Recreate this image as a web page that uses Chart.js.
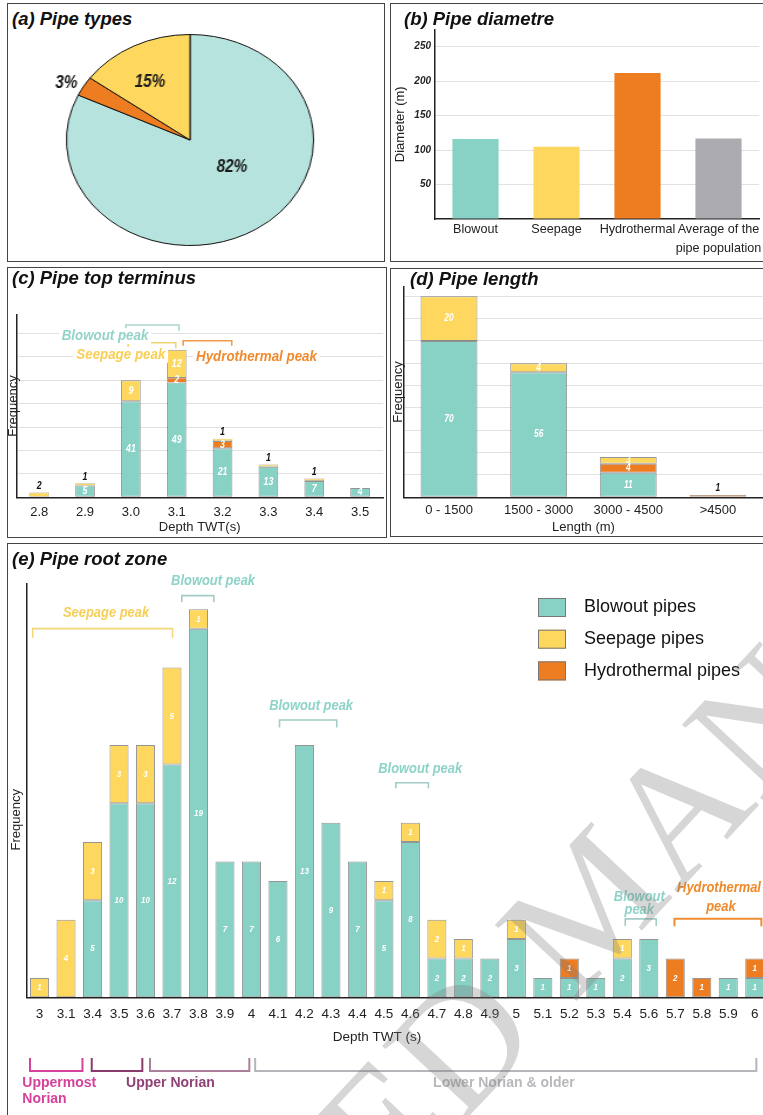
<!DOCTYPE html>
<html>
<head>
<meta charset="utf-8">
<script src="https://cdn.jsdelivr.net/npm/chart.js@4.4.1/dist/chart.umd.min.js"></script>
<style>
  html, body { margin: 0; padding: 0; background: #fff; }
  body { width: 763px; height: 1115px; overflow: hidden; position: relative; font-family: 'Liberation Sans', Arial, sans-serif; }
  .panel { position: absolute; box-sizing: border-box; border: 1px solid #444; background: #fff; }
  .panel canvas { position: absolute; left: 0; top: 0; }
  .ttl { position: absolute; font: italic bold 18.5px 'Liberation Sans', Arial, sans-serif; line-height: 20px; color: #111; white-space: nowrap; }
  #wm { position: absolute; left: -382px; top: 896px; font: 170px 'Liberation Serif', 'Times New Roman', serif; line-height: 170px;
        color: rgba(120,120,120,0.3); white-space: nowrap; transform-origin: 899.6px 86px; transform: rotate(-47deg); pointer-events: none; }
</style>
</head>
<body>
<div class="panel" style="left:7px;top:3px;width:378px;height:259px"></div>
<canvas id="pie" width="260" height="212" style="position:absolute;left:60px;top:34px;transform:scaleX(1.171)"></canvas>
<div class="panel" style="left:390px;top:3px;width:400px;height:259px"><canvas id="cb" width="380" height="257"></canvas></div>
<div class="panel" style="left:7px;top:267px;width:380px;height:271px"><canvas id="cc" width="378" height="269"></canvas></div>
<div class="panel" style="left:390px;top:268px;width:400px;height:269px"><canvas id="cd" width="380" height="267"></canvas></div>
<div class="panel" style="left:7px;top:543px;width:780px;height:600px"><canvas id="ce" width="770" height="570"></canvas></div>

<div class="ttl" style="left:12px;top:8.6px">(a) Pipe types</div>
<div class="ttl" style="left:404px;top:8.6px">(b) Pipe diametre</div>
<div class="ttl" style="left:12px;top:268.3px">(c) Pipe top terminus</div>
<div class="ttl" style="left:410px;top:269.3px">(d) Pipe length</div>
<div class="ttl" style="left:12px;top:548.6px">(e) Pipe root zone</div>
<div id="wm">ACCEPTED MANUSCRIPT</div>

<script>
// (a) share of pipe types, clockwise from 12 o'clock
const TYPE_LABELS = ['Blowout', 'Hydrothermal', 'Seepage'];
const TYPE_SHARE = [82, 3, 15];

// (b) mean diameter (m)
const DIAM_LABELS = ['Blowout', 'Seepage', 'Hydrothermal', ['Average of the', 'pipe population']];
const DIAM_VALUES = [116, 105, 212, 117];

// (c) pipe top terminus, depth TWT (s)
const TOP_DEPTH = ['2.8', '2.9', '3.0', '3.1', '3.2', '3.3', '3.4', '3.5'];
const TOP_BLOWOUT = [0, 5, 41, 49, 21, 13, 7, 4];
const TOP_HYDRO = [0, 0, 0, 2, 3, 0, 0, 0];
const TOP_SEEPAGE = [2, 1, 9, 12, 1, 1, 1, 0];

// (d) pipe length (m)
const LEN_BINS = ['0 - 1500', '1500 - 3000', '3000 - 4500', '>4500'];
const LEN_BLOWOUT = [70, 56, 11, 0];
const LEN_HYDRO = [0, 0, 4, 1];
const LEN_SEEPAGE = [20, 4, 3, 0];

// (e) pipe root zone, depth TWT (s)
const ROOT_DEPTH = ['3', '3.1', '3.4', '3.5', '3.6', '3.7', '3.8', '3.9', '4', '4.1', '4.2', '4.3', '4.4', '4.5',
  '4.6', '4.7', '4.8', '4.9', '5', '5.1', '5.2', '5.3', '5.4', '5.6', '5.7', '5.8', '5.9', '6'];
const ROOT_BLOWOUT = [0, 0, 5, 10, 10, 12, 19, 7, 7, 6, 13, 9, 7, 5, 8, 2, 2, 2, 3, 1, 1, 1, 2, 3, 0, 0, 1, 1];
const ROOT_HYDRO = [0, 0, 0, 0, 0, 0, 0, 0, 0, 0, 0, 0, 0, 0, 0, 0, 0, 0, 0, 0, 1, 0, 0, 0, 2, 1, 0, 1];
const ROOT_SEEPAGE = [1, 4, 3, 3, 3, 5, 1, 0, 0, 0, 0, 0, 0, 1, 1, 2, 1, 0, 1, 0, 0, 0, 1, 0, 0, 0, 0, 0];

const FONT = "'Liberation Sans', Arial, sans-serif";
const TEAL = '#88d1c5', YELLOW = '#fed85e', ORANGE = '#ee7d22', GREY = '#acacb0', PIE_TEAL = '#b6e3dd';
const BAR_EDGE = 'rgba(60,60,60,0.55)';

Chart.defaults.font.family = FONT;
Chart.defaults.color = '#222';
Chart.defaults.animation = false;
Chart.defaults.responsive = false;
Chart.defaults.plugins.legend.display = false;
Chart.defaults.plugins.tooltip.enabled = false;

function txt(ctx, s, x, y, o) {
  ctx.save();
  ctx.font = (o.style || '') + ' ' + (o.weight || '') + ' ' + o.size + 'px ' + FONT;
  ctx.translate(x, y);
  if (o.rot) ctx.rotate(o.rot);
  ctx.scale(o.sx || 1, 1);
  ctx.textAlign = o.align || 'center';
  ctx.textBaseline = 'middle';
  if (o.bg) {
    const w = ctx.measureText(s).width;
    ctx.fillStyle = o.bg;
    ctx.fillRect(-w / 2 - 3, -o.size * 0.55, w + 6, o.size * 1.1);
  }
  ctx.fillStyle = o.color;
  ctx.fillText(s, 0, 0);
  ctx.restore();
}

// numbers inside the stacked segments
function stackLabels(size, sx) {
  return {
    id: 'stackLabels',
    afterDatasetsDraw(chart) {
      const ctx = chart.ctx;
      chart.data.labels.forEach((lab, i) => {
        let top = -1;
        chart.data.datasets.forEach((ds, d) => { if (ds.data[i] > 0) top = d; });
        chart.data.datasets.forEach((ds, d) => {
          const v = ds.data[i];
          if (!v) return;
          const bar = chart.getDatasetMeta(d).data[i];
          const h = bar.base - bar.y;
          const f = { size: size, sx: sx, weight: 'bold', style: 'italic' };
          if (d === top && h < 6) txt(ctx, String(v), bar.x, bar.y - 6.5, Object.assign(f, { color: '#111' }));
          else txt(ctx, String(v), bar.x, (bar.y + bar.base) / 2, Object.assign(f, { color: '#fff' }));
        });
      });
    }
  };
}

// peak labels and brackets, placed in category / value units
function notes(items) {
  return {
    id: 'notes',
    afterDraw(chart) {
      const ctx = chart.ctx, x = chart.scales.x, y = chart.scales.y;
      items.forEach(it => {
        if (it.from !== undefined) {
          const x0 = x.getPixelForValue(it.from), x1 = x.getPixelForValue(it.to), yy = y.getPixelForValue(it.at);
          ctx.save();
          ctx.strokeStyle = it.color;
          ctx.lineWidth = it.lw || 1.6;
          ctx.beginPath();
          ctx.moveTo(x0, yy + it.leg); ctx.lineTo(x0, yy); ctx.lineTo(x1, yy); ctx.lineTo(x1, yy + it.leg);
          ctx.stroke();
          ctx.restore();
        } else {
          txt(ctx, it.text, x.getPixelForValue(it.x), y.getPixelForValue(it.y), it);
        }
      });
    }
  };
}

function stackSets(b, h, s, lab, thin) {
  const common = {
    borderColor: BAR_EDGE, borderSkipped: false, categoryPercentage: 1,
    borderWidth: thin ? c => (c.raw <= 2 ? 0.6 : 1) : 1
  };
  return [
    Object.assign({ label: lab ? 'Blowout pipes' : 'Blowout', data: b, backgroundColor: TEAL }, common),
    Object.assign({ label: lab ? 'Hydrothermal pipes' : 'Hydrothermal', data: h, backgroundColor: ORANGE }, common),
    Object.assign({ label: lab ? 'Seepage pipes' : 'Seepage', data: s, backgroundColor: YELLOW }, common)
  ];
}

const axisLine = { color: '#222', width: 1.5 };
const softGrid = c => c.tick.value === 0 ? 'rgba(0,0,0,0)' : '#e1e1e1';

// (a) pie
const PIE_LABEL_POS = [[0.34, 0.26], [-1.0, -0.54], [-0.325, -0.546]];
new Chart(document.getElementById('pie'), {
  type: 'pie',
  data: { labels: TYPE_LABELS, datasets: [{ data: TYPE_SHARE, backgroundColor: [PIE_TEAL, ORANGE, YELLOW], borderColor: '#111', borderWidth: 1 }] },
  options: { layout: { padding: 0 } },
  plugins: [{
    id: 'pieLabels',
    afterDatasetsDraw(chart) {
      chart.getDatasetMeta(0).data.forEach((a, i) => {
        const p = PIE_LABEL_POS[i];
        txt(chart.ctx, TYPE_SHARE[i] + '%', a.x + p[0] * a.outerRadius, a.y + p[1] * a.outerRadius,
          { size: 18, sx: 0.85 / 1.171, weight: 'bold', style: 'italic', color: '#1a1a1a' });
      });
    }
  }]
});

// (b) diameter
new Chart(document.getElementById('cb'), {
  type: 'bar',
  data: { labels: DIAM_LABELS, datasets: [{ data: DIAM_VALUES, backgroundColor: [TEAL, YELLOW, ORANGE, GREY], barPercentage: 0.57, categoryPercentage: 1 }] },
  options: {
    layout: { padding: { top: 25.5, right: 12, left: 0, bottom: 0 } },
    scales: {
      x: {
        grid: { display: false, drawTicks: false }, border: axisLine,
        ticks: { color: '#222', font: { size: 12.6, lineHeight: 1.5 }, padding: 1, autoSkip: false, maxRotation: 0, minRotation: 0 },
        afterFit(s) { s.height = 42; }
      },
      y: {
        min: 0, max: 275,
        grid: { color: softGrid, drawTicks: false }, border: axisLine,
        ticks: { stepSize: 50, includeBounds: false, color: '#222', font: { size: 10, weight: 'bold', style: 'italic' }, padding: 4,
          callback: v => v === 0 ? '' : v },
        title: { display: true, text: 'Diameter (m)', color: '#222', font: { size: 13 }, padding: { top: 2 } },
        afterFit(s) { s.width = 44; }
      }
    }
  }
});

// (c) top terminus
new Chart(document.getElementById('cc'), {
  type: 'bar',
  data: { labels: TOP_DEPTH, datasets: stackSets(TOP_BLOWOUT, TOP_HYDRO, TOP_SEEPAGE, false, true).map(d => Object.assign(d, { barPercentage: 0.43 })) },
  options: {
    layout: { padding: { top: 46.7, right: 3, left: 0, bottom: 0 } },
    scales: {
      x: {
        stacked: true, grid: { display: false, drawTicks: false }, border: axisLine,
        ticks: { color: '#222', font: { size: 13 }, padding: 7, autoSkip: false, maxRotation: 0 },
        title: { display: true, text: 'Depth TWT(s)', color: '#222', font: { size: 13 }, padding: { top: 0, bottom: 2 } },
        afterFit(s) { s.height = 39.7; }
      },
      y: {
        stacked: true, min: 0, max: 78,
        grid: { color: softGrid, drawTicks: false }, border: axisLine,
        ticks: { display: false, stepSize: 10, includeBounds: false },
        title: { display: true, text: 'Frequency', color: '#222', font: { size: 13 }, padding: { top: -2.5 } },
        afterFit(s) { s.width = 8.3; }
      }
    }
  },
  plugins: [stackLabels(10.5, 0.84), notes([
    { from: 1.89, to: 3.05, at: 73.6, leg: 6, color: '#a9d6d0' },
    { from: 1.94, to: 2.98, at: 66.0, leg: 5.5, color: '#f2d46e' },
    { from: 3.14, to: 4.2, at: 66.9, leg: 5, color: '#f29a4b' },
    { text: 'Blowout peak', x: 1.435, y: 68.9, size: 14.5, sx: 0.92, weight: 'bold', style: 'italic', color: '#93d3ca', bg: '#fff' },
    { text: 'Seepage peak', x: 1.78, y: 60.9, size: 14.5, sx: 0.92, weight: 'bold', style: 'italic', color: '#f8cf55', bg: '#fff' },
    { text: 'Hydrothermal peak', x: 4.74, y: 60.1, size: 14.5, sx: 0.92, weight: 'bold', style: 'italic', color: '#f08a2e', bg: '#fff' }
  ])]
});

// (d) length
new Chart(document.getElementById('cd'), {
  type: 'bar',
  data: { labels: LEN_BINS, datasets: stackSets(LEN_BLOWOUT, LEN_HYDRO, LEN_SEEPAGE, false, true).map(d => Object.assign(d, { barPercentage: 0.635 })) },
  options: {
    layout: { padding: { top: 17.7, right: 8.3, left: 0, bottom: 0 } },
    scales: {
      x: {
        stacked: true, grid: { display: false, drawTicks: false }, border: axisLine,
        ticks: { color: '#222', font: { size: 13 }, padding: 5.6, autoSkip: false, maxRotation: 0 },
        title: { display: true, text: 'Length (m)', color: '#222', font: { size: 13 }, padding: { top: 0, bottom: 0.9 } },
        afterFit(s) { s.height = 38.7; }
      },
      y: {
        stacked: true, min: 0, max: 94.3,
        grid: { color: softGrid, drawTicks: false }, border: axisLine,
        ticks: { display: false, stepSize: 10, includeBounds: false },
        title: { display: true, text: 'Frequency', color: '#222', font: { size: 13 }, padding: { top: 0 } },
        afterFit(s) { s.width = 13.2; }
      }
    }
  },
  plugins: [stackLabels(10, 0.84)]
});

// (e) root zone
const LEGEND_ORDER = [0, 2, 1];
const peak = { size: 15, sx: 0.86, weight: 'bold', style: 'italic' };
const age = { size: 14, weight: 'bold' };
new Chart(document.getElementById('ce'), {
  type: 'bar',
  data: { labels: ROOT_DEPTH, datasets: stackSets(ROOT_BLOWOUT, ROOT_HYDRO, ROOT_SEEPAGE, true).map(d => Object.assign(d, { barPercentage: 0.72 })) },
  options: {
    layout: { padding: { top: 40, right: 10, left: 0, bottom: 0 } },
    scales: {
      x: {
        stacked: true, grid: { display: false, drawTicks: false }, border: axisLine,
        ticks: { color: '#222', font: { size: 13.5 }, padding: 9, autoSkip: false, maxRotation: 0 },
        afterFit(s) { s.height = 116.7; }
      },
      y: {
        stacked: true, min: 0, max: 21.3,
        grid: { display: false, drawTicks: false }, border: axisLine,
        ticks: { display: false },
        afterFit(s) { s.width = 18.3; }
      }
    }
  },
  plugins: [stackLabels(9.5, 0.84), notes([
    { from: -0.26, to: 5.02, at: 19.0, leg: 9, color: '#f2d679' },
    { text: 'Seepage peak', x: 2.51, y: 19.82, color: '#f6cf57', ...peak },
    { from: 5.37, to: 6.58, at: 20.7, leg: 6.5, color: '#a3ccc6' },
    { text: 'Blowout peak', x: 6.55, y: 21.47, color: '#8dd3c8', ...peak },
    { from: 9.06, to: 11.22, at: 14.29, leg: 7.5, color: '#a3ccc6' },
    { text: 'Blowout peak', x: 10.25, y: 15.03, color: '#8dd3c8', ...peak },
    { from: 13.45, to: 14.68, at: 11.06, leg: 5.5, color: '#a3ccc6' },
    { text: 'Blowout peak', x: 14.37, y: 11.77, color: '#8dd3c8', ...peak },
    { from: 22.11, to: 23.28, at: 4.04, leg: 7, color: '#a3ccc6' },
    { text: 'Blowout', x: 22.64, y: 5.2, color: '#8dd3c8', ...peak },
    { text: 'peak', x: 22.64, y: 4.5, color: '#8dd3c8', ...peak },
    { from: 23.97, to: 27.25, at: 4.05, leg: 7.5, color: '#f08c33', lw: 2 },
    { text: 'Hydrothermal', x: 25.65, y: 5.66, color: '#ef8a2c', ...peak },
    { text: 'peak', x: 25.72, y: 4.65, color: '#ef8a2c', ...peak },
    { text: 'Depth TWT (s)', x: 12.74, y: -2.05, size: 13.5, color: '#222' },
    { from: -0.36, to: 1.62, at: -3.8, leg: -13, color: '#d6429a', lw: 2 },
    { from: 1.97, to: 3.88, at: -3.8, leg: -13, color: '#8b3a6e', lw: 2 },
    { from: 4.17, to: 7.92, at: -3.8, leg: -13, color: '#a98099', lw: 2 },
    { from: 8.14, to: 27.06, at: -3.8, leg: -13, color: '#b5b5ba', lw: 2 },
    { text: 'Uppermost', x: -0.65, y: -4.4, align: 'left', color: '#d6429a', ...age },
    { text: 'Norian', x: -0.65, y: -5.26, align: 'left', color: '#d6429a', ...age },
    { text: 'Upper Norian', x: 4.94, y: -4.43, color: '#8f4176', ...age },
    { text: 'Lower Norian & older', x: 17.53, y: -4.43, color: '#b8b8bc', ...age }
  ]), {
    id: 'rootLegend',
    afterDraw(chart) {
      const ctx = chart.ctx, y = chart.scales.y;
      txt(ctx, 'Frequency', chart.chartArea.left - 9.6, y.getPixelForValue(9.15), { size: 13, color: '#222', rot: -Math.PI / 2 });
      LEGEND_ORDER.forEach((d, k) => {
        const ds = chart.data.datasets[d];
        const cy = 63.5 + k * 31.7;
        ctx.fillStyle = ds.backgroundColor;
        ctx.fillRect(530, cy - 9.5, 28, 19);
        ctx.strokeStyle = '#777';
        ctx.lineWidth = 1;
        ctx.strokeRect(530.5, cy - 9, 27, 18);
        txt(ctx, ds.label, 576, cy, { size: 18, color: '#111', align: 'left' });
      });
    }
  }]
});
</script>
</body>
</html>
